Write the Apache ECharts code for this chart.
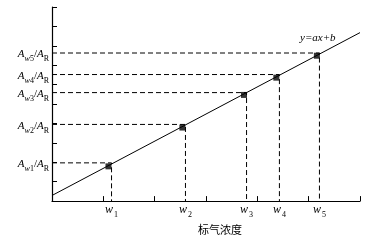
<!DOCTYPE html>
<html><head><meta charset="utf-8">
<script src="https://cdn.jsdelivr.net/npm/echarts@6/dist/echarts.min.js"></script>
<style>html,body{margin:0;padding:0;background:#fff}#c{width:388px;height:240px}</style>
</head><body><div id="c"></div>
<script>
// Concentration levels (x) and area ratios (y) marked by the dashed guides
const wVals = [1.16, 2.60, 3.79, 4.43, 5.21];
const ratioVals = [1.97, 3.95, 5.59, 6.52, 7.63];
// Measured points (squares)
const pointX = [1.10, 2.54, 3.74, 4.37, 5.16];
const pointY = [1.79, 3.79, 5.47, 6.36, 7.49];
// Fitted line y = ax + b, end points
const fitX = [0, 6];
const fitY = [0.29, 8.68];
const xLabels = ['1', '2', '3', '4', '5'];
const yLabels = ['1', '2', '3', '4', '5'];
const xName = '标气浓度';
const fitName = 'y=ax+b';

const serif = 'Liberation Serif';
const chart = echarts.init(document.getElementById('c'), null, {renderer: 'canvas'});

const series = [];
wVals.forEach((w, i) => {
  series.push({
    type: 'line', silent: true, symbol: 'none',
    data: [[0, ratioVals[i]], [w, ratioVals[i]], [w, 0]],
    lineStyle: {color: '#000', width: 1, type: [5, 3]},
    z: 2
  });
});
series.push({
  type: 'line', symbol: 'none', silent: true,
  data: fitX.map((x, i) => [x, fitY[i]]),
  lineStyle: {color: '#000', width: 1},
  endLabel: {
    show: true, formatter: fitName, position: 'insideEndTop',
    fontFamily: serif, fontStyle: 'italic', fontSize: 11, color: '#000',
    offset: [-68, 5]
  },
  z: 3
});
series.push({
  type: 'scatter', symbol: 'rect', symbolSize: 6,
  itemStyle: {color: '#000'},
  data: pointX.map((x, i) => [x, pointY[i]]),
  z: 4
});

chart.setOption({
  animation: false,
  backgroundColor: '#fff',
  grid: {left: 52, right: 28, top: 7, bottom: 35},
  xAxis: {
    type: 'value', min: 0, max: 6, interval: 1,
    name: xName, nameLocation: 'middle', nameGap: 18,
    nameTextStyle: {fontFamily: 'Noto Sans CJK SC', fontSize: 11, color: '#000', padding: [0, 0, 0, 28]},
    axisLine: {show: true, lineStyle: {color: '#000', width: 1.2}},
    axisTick: {show: true, inside: true, length: 5, lineStyle: {color: '#000'}},
    splitLine: {show: false},
    axisLabel: {
      customValues: wVals, margin: 3, color: '#000',
      formatter: (v) => {
        const i = wVals.indexOf(v);
        return '{w|w}{s|' + xLabels[i] + '}';
      },
      rich: {
        w: {fontFamily: serif, fontStyle: 'italic', fontSize: 12, color: '#000', verticalAlign: 'bottom', padding: [0, 1, 3, 0]},
        s: {fontFamily: serif, fontSize: 8, color: '#000', verticalAlign: 'bottom'}
      }
    }
  },
  yAxis: {
    type: 'value', min: 0, max: 10, interval: 1,
    axisLine: {show: true, lineStyle: {color: '#000', width: 1.2}},
    axisTick: {show: true, inside: true, length: 5, lineStyle: {color: '#000'}},
    splitLine: {show: false},
    axisLabel: {
      customValues: ratioVals, margin: 3, color: '#000',
      padding: [6, 0, 0, 0],
      formatter: (v) => {
        const i = ratioVals.indexOf(v);
        return '{a|A}{si|w}{sr|' + yLabels[i] + '}{n|/}{a|A}{sr|R}';
      },
      rich: {
        a: {fontFamily: serif, fontStyle: 'italic', fontSize: 11, color: '#000', verticalAlign: 'bottom', padding: [0, 0, 3, 0]},
        n: {fontFamily: serif, fontSize: 11, color: '#000', verticalAlign: 'bottom', padding: [0, 0, 3, 0]},
        si: {fontFamily: serif, fontStyle: 'italic', fontSize: 8, color: '#000', verticalAlign: 'bottom'},
        sr: {fontFamily: serif, fontSize: 8, color: '#000', verticalAlign: 'bottom'}
      }
    }
  },
  series: series
});
</script></body></html>
